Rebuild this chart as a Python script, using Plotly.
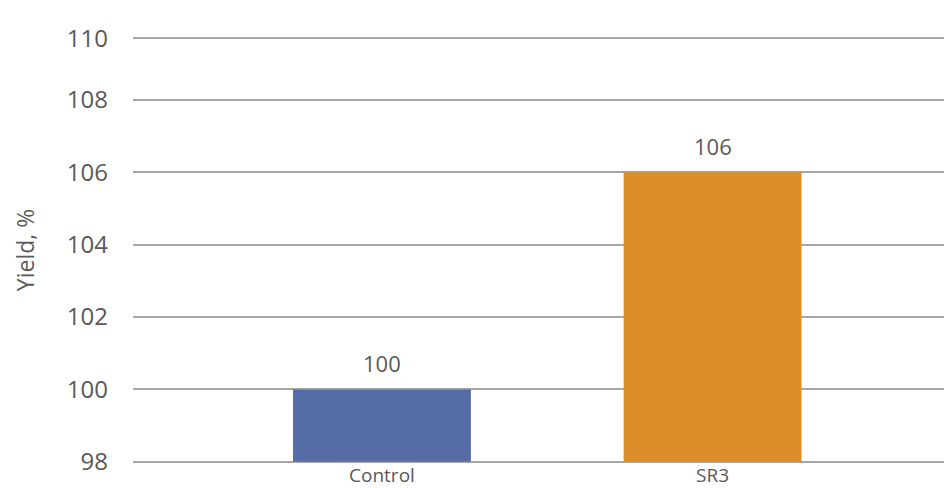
import plotly.graph_objects as go

categories = ["Control", "SR3"]
yield_pct = [100, 106]
bar_colors = ["#556ca6", "#db8d2a"]
bar_labels = ["100", "106"]

axis_floor = 98
y_tick_positions = [98, 100, 102, 104, 106, 108, 109.7]
y_tick_labels = ["98", "100", "102", "104", "106", "108", "110"]

text_color = "#595959"
font_family = "Open Sans, Noto Sans, sans-serif"

fig = go.Figure(
    go.Bar(
        x=categories,
        y=[v - axis_floor for v in yield_pct],
        base=axis_floor,
        marker=dict(color=bar_colors, line=dict(width=0)),
        width=0.538,
        hovertemplate="%{x}: %{customdata}<extra></extra>",
        customdata=yield_pct,
    )
)

for cat, val, lab in zip(categories, yield_pct, bar_labels):
    fig.add_annotation(
        x=cat, y=val, text=lab, showarrow=False,
        yanchor="bottom", yshift=9,
        font=dict(size=22, color=text_color, family=font_family),
    )

fig.update_layout(
    width=944,
    height=488,
    margin=dict(l=133, r=0, t=36, b=24),
    paper_bgcolor="white",
    plot_bgcolor="white",
    showlegend=False,
    font=dict(family=font_family, color=text_color),
    xaxis=dict(
        type="category",
        range=[-0.753, 1.70],
        showgrid=False,
        showline=False,
        zeroline=False,
        automargin=False,
        tickfont=dict(size=19, color=text_color),
        ticks="",
        ticklabelstandoff=-2,
    ),
    yaxis=dict(
        range=[97.94, 109.76],
        tickmode="array",
        tickvals=y_tick_positions,
        ticktext=y_tick_labels,
        showgrid=True,
        gridcolor="#a6a6a6",
        gridwidth=2,
        zeroline=False,
        showline=False,
        automargin=False,
        tickfont=dict(size=24, color=text_color),
        ticklabelstandoff=24,
        title=dict(text="Yield, %", font=dict(size=23, color=text_color), standoff=25),
    ),
)

fig.write_html(
    "out.html",
    config={"displayModeBar": False},
    post_script="document.body.style.margin='0px';document.body.style.overflow='hidden';",
)
